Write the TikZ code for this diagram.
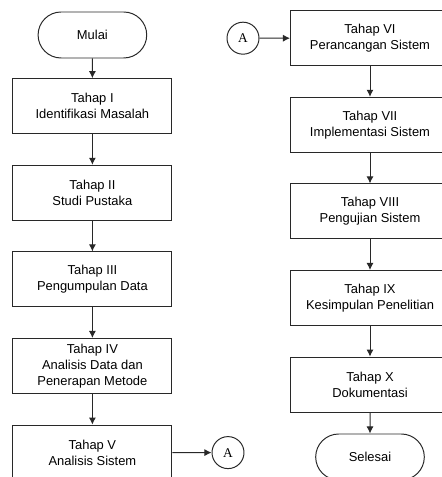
\documentclass[tikz,border=0pt]{standalone}
\usepackage{fontspec}
\setmainfont{Liberation Sans}
\newfontfamily\connfont{Liberation Serif}
\usetikzlibrary{shapes.misc, arrows.meta, positioning}
\definecolor{linegray}{RGB}{40,40,40}

\begin{document}
\begin{tikzpicture}[
    stage/.style={rectangle, draw=linegray, line width=0.7pt, minimum width=3.975cm, minimum height=1.375cm, align=center, font=\fontsize{9.2}{11.4}\selectfont},
    term/.style={rounded rectangle, draw=linegray, line width=0.7pt, minimum width=2.95cm, minimum height=1.15cm, font=\fontsize{9.2}{11.4}\selectfont},
    conn/.style={circle, draw=linegray, line width=0.7pt, minimum size=0.8cm, inner sep=0pt, font=\connfont\fontsize{9.5}{10}\selectfont},
    flow/.style={-{Latex[length=5pt,width=5pt]}, draw=linegray, line width=0.7pt}
]
\useasboundingbox (0,0) rectangle (11.025,11.925);

% Left column
\node[term] (mulai) at (2.31, 11.05) {Mulai};
\foreach \i/\txt in {1/{Tahap I\\Identifikasi Masalah}, 2/{Tahap II\\Studi Pustaka}, 3/{Tahap III\\Pengumpulan Data}, 4/{Tahap IV\\Analisis Data dan\\Penerapan Metode}, 5/{Tahap V\\Analisis Sistem}} {
    \node[stage] (tahap\i) at (2.31, 9.27-\i*2.165+2.165) {\txt};
}
\node[conn] (conA1) at (5.7, 0.61) {A};

% Right column
\node[conn] (conA2) at (6.075, 10.97) {A};
\foreach \i/\txt in {6/{Tahap VI\\Perancangan Sistem}, 7/{Tahap VII\\Implementasi Sistem}, 8/{Tahap VIII\\Pengujian Sistem}, 9/{Tahap IX\\Kesimpulan Penelitian}, 10/{Tahap X\\Dokumentasi}} {
    \node[stage] (tahap\i) at (9.25, 10.97-\i*2.165+12.99) {\txt};
}
\node[term] (selesai) at (9.25, 0.5) {Selesai};

% Connections
\draw[flow] (mulai) -- (tahap1);
\foreach \i/\j in {1/2, 2/3, 3/4, 4/5, 6/7, 7/8, 8/9, 9/10} {
    \draw[flow] (tahap\i) -- (tahap\j);
}
\draw[flow] (tahap5) -- (conA1);
\draw[flow] (conA2) -- (tahap6);
\draw[flow] (tahap10) -- (selesai);
\end{tikzpicture}
\end{document}
